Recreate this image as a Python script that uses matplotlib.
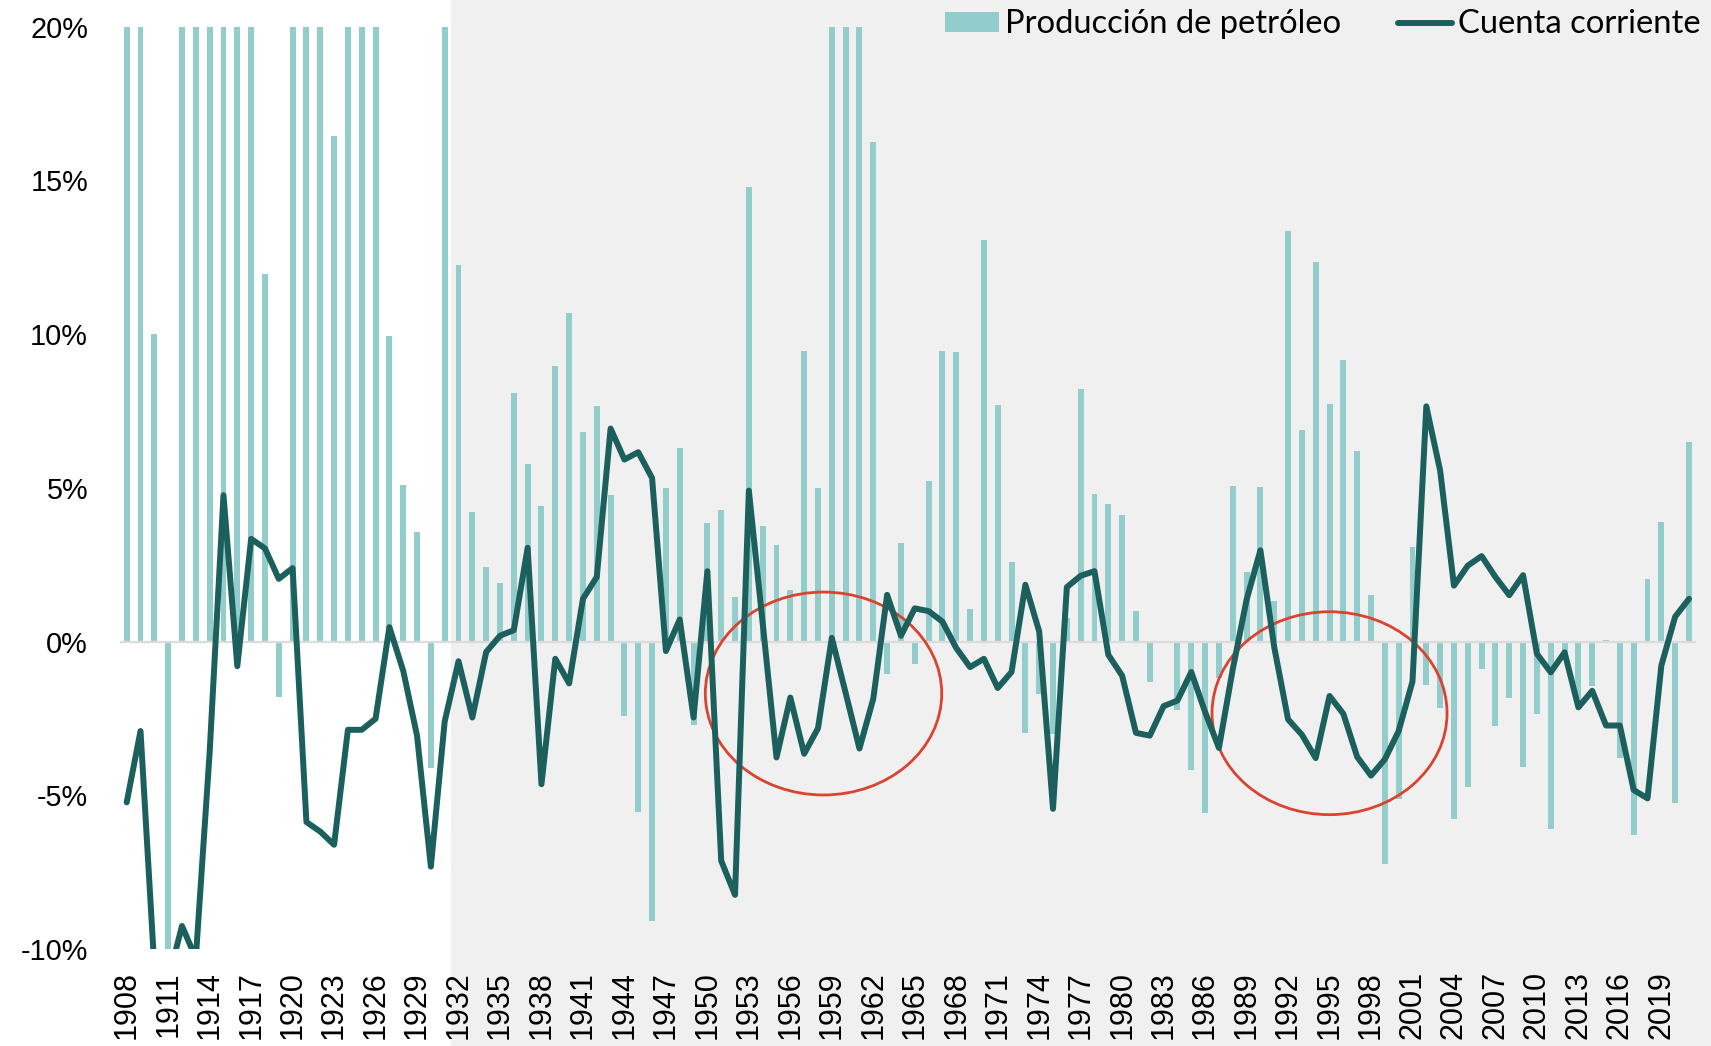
import matplotlib
matplotlib.use("Agg")
import matplotlib.pyplot as plt
import matplotlib.transforms as mtransforms
from matplotlib.patches import Ellipse, Rectangle, Patch
from matplotlib.lines import Line2D
import numpy as np

# ---- data ----
years = np.arange(1908, 2022)

# oil production growth, % (values > 20 run off the top of the chart)
produccion = [
    25, 25, 10.0, -12, 25, 25, 25, 25, 25, 25,            # 1908-1917
    11.97, -1.8, 25, 25, 25, 16.45, 25, 25, 25, 9.93,     # 1918-1927
    5.1, 3.55, -4.1, 25, 12.24, 4.2, 2.43, 1.92, 8.1, 5.78,  # 1928-1937
    4.42, 8.97, 10.7, 6.83, 7.67, 4.76, -2.41, -5.54, -9.09, 5.0,  # 1938-1947
    6.29, -2.7, 3.87, 4.29, 1.45, 14.8, 3.77, 3.14, 1.67, 9.46,  # 1948-1957
    5.0, 25, 25, 25, 16.25, -1.07, 3.21, -0.74, 5.23, 9.46,  # 1958-1967
    9.43, 1.07, 13.05, 7.7, 2.58, -2.98, -1.71, -3.0, 0.77, 8.2,  # 1968-1977
    4.81, 4.48, 4.12, 0.99, -1.31, 0.0, -2.23, -4.18, -5.59, -1.2,  # 1978-1987
    5.07, 2.25, 5.03, 1.33, 13.37, 6.87, 12.36, 7.74, 9.16, 6.2,  # 1988-1997
    1.53, -7.23, -5.13, 3.07, -1.4, -2.16, -5.78, -4.72, -0.89, -2.73,  # 1998-2007
    -1.82, -4.08, -2.37, -6.1, -0.6, -2.0, -1.45, 0.05, -3.8, -6.3,  # 2008-2017
    2.04, 3.9, -5.26, 6.49,                                # 2018-2021
]

# current account, % of GDP (values < -10 run off the bottom)
cuenta = [
    -5.23, -2.91, -10.6, -11.0, -9.25, -10.3, -3.6, 4.76, -0.8, 3.34,   # 1908-1917
    3.03, 2.04, 2.39, -5.87, -6.18, -6.61, -2.87, -2.87, -2.51, 0.47,   # 1918-1927
    -0.95, -3.06, -7.32, -2.6, -0.64, -2.47, -0.34, 0.19, 0.37, 3.05,   # 1928-1937
    -4.64, -0.56, -1.36, 1.39, 2.1, 6.93, 5.92, 6.16, 5.32, -0.31,      # 1938-1947
    0.72, -2.47, 2.29, -7.13, -8.24, 4.91, 0.6, -3.77, -1.82, -3.65,    # 1948-1957
    -2.82, 0.12, -1.67, -3.48, -1.86, 1.52, 0.19, 1.08, 0.99, 0.65,     # 1958-1967
    -0.21, -0.83, -0.56, -1.51, -0.99, 1.85, 0.33, -5.44, 1.77, 2.14,   # 1968-1977
    2.29, -0.43, -1.11, -2.97, -3.06, -2.1, -1.92, -0.99, -2.29, -3.46, # 1978-1987
    -0.9, 1.36, 2.97, -0.18, -2.53, -3.03, -3.79, -1.77, -2.35, -3.75,  # 1988-1997
    -4.36, -3.83, -2.91, -1.3, 7.65, 5.56, 1.82, 2.47, 2.78, 2.1,       # 1998-2007
    1.51, 2.16, -0.4, -1.0, -0.35, -2.14, -1.6, -2.73, -2.73, -4.83,    # 2008-2017
    -5.1, -0.78, 0.81, 1.39,                                            # 2018-2021
]

tick_years = list(range(1908, 2020, 3))
y_ticks = [-10, -5, 0, 5, 10, 15, 20]

# highlighted periods (centre year, centre value, width in years, height in %)
ellipses = [(1958.4, -1.69, 17.1, 6.6), (1995.0, -2.33, 17.0, 6.6)]

bar_color = "#93cdcb"
line_color = "#1c605e"
red = "#d9432f"

# ---- figure ----
fig = plt.figure(figsize=(17.11, 10.46), dpi=100)
ax = fig.add_axes([0.07013, 0.09273, 0.92093, 0.88174])
ax.set_facecolor("none")

# grey shading from 1932 onwards (covers the full figure height)
trans = mtransforms.blended_transform_factory(ax.transData, fig.transFigure)
ax.add_patch(Rectangle((1931.45, 0), 200, 1, transform=trans,
                       facecolor="#f0f0f0", edgecolor="none",
                       clip_on=False, zorder=0))

ax.bar(years, produccion, width=0.43, color=bar_color, zorder=2)
ax.axhline(0, color="#dcdcdc", lw=1.6, zorder=3)

for cx, cy, w, h in ellipses:
    ax.add_patch(Ellipse((cx, cy), w, h, fill=False, edgecolor=red,
                         lw=2.0, zorder=4))

ax.plot(years, cuenta, color=line_color, lw=4.3, zorder=5,
        solid_capstyle="round", solid_joinstyle="round")

ax.set_xlim(1907.515, 2021.485)
ax.set_ylim(-10, 20)

ax.set_xticks(tick_years)
ax.set_xticklabels([str(y) for y in tick_years], rotation=90,
                   family="Liberation Sans", fontsize=22)
ax.set_yticks(y_ticks)
ax.set_yticklabels([f"{v}%" for v in y_ticks],
                   family="Liberation Sans", fontsize=20.8)
ax.tick_params(axis="x", length=0, pad=16)
ax.tick_params(axis="y", length=0, pad=23)

for s in ax.spines.values():
    s.set_visible(False)

handles = [
    Patch(facecolor=bar_color, edgecolor="none"),
    Line2D([0], [0], color=line_color, lw=4.3, solid_capstyle="round"),
]
labels = ["Producción de petróleo", "Cuenta corriente"]
leg = fig.legend(handles, labels, loc="upper right",
                 bbox_to_anchor=(0.994, 0.991), bbox_transform=fig.transFigure,
                 ncol=2, frameon=False, borderpad=0, borderaxespad=0,
                 handlelength=1.65, handleheight=0.56, handletextpad=0.18,
                 columnspacing=1.75, prop={"family": "Lato", "size": 23.6})

fig.savefig("out.png", dpi=100)
